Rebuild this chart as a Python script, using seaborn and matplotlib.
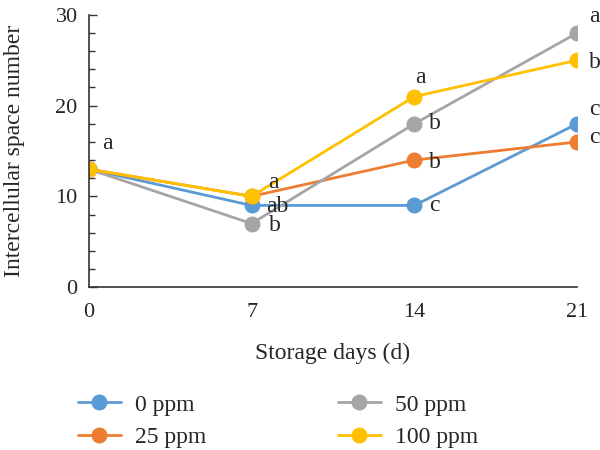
import pandas as pd
import matplotlib.pyplot as plt
import seaborn as sns

# data
days = [0, 7, 14, 21]
treatments = ["0 ppm", "25 ppm", "50 ppm", "100 ppm"]
ppm0 = [13, 9, 9, 18]
ppm25 = [13, 10, 14, 16]
ppm50 = [13, 7, 18, 28]
ppm100 = [13, 10, 21, 25]
colors = ["#5B9BD5", "#ED7D31", "#A5A5A5", "#FFC000"]

# significance letters (series, day index, letter)
letters = [
    ("100 ppm", 0, "a"),
    ("100 ppm", 1, "a"), ("0 ppm", 1, "ab"), ("50 ppm", 1, "b"),
    ("100 ppm", 2, "a"), ("50 ppm", 2, "b"), ("25 ppm", 2, "b"), ("0 ppm", 2, "c"),
    ("50 ppm", 3, "a"), ("100 ppm", 3, "b"), ("0 ppm", 3, "c"), ("25 ppm", 3, "c"),
]
# pixel offsets for each letter
offsets = [
    (13, 26),
    (17, 14), (15, -1), (17, -2),
    (1, 19), (15, 0), (15, -2), (15, 0),
    (12, 17), (12, -2), (12, 14), (12, 4),
]

values = {"0 ppm": ppm0, "25 ppm": ppm25, "50 ppm": ppm50, "100 ppm": ppm100}
rows = []
for t in treatments:
    for d, v in zip(days, values[t]):
        rows.append({"day": d, "value": v, "treatment": t})
df = pd.DataFrame(rows)

sns.set_style("white")
plt.rcParams["font.family"] = ["Liberation Serif", "DejaVu Serif"]

fig = plt.figure(figsize=(6, 4.5), dpi=100)
ax = fig.add_axes([0.148, 0.362, 0.814, 0.605])

sns.lineplot(data=df, x="day", y="value", hue="treatment", hue_order=treatments,
             palette=colors, marker="o", markersize=11.5, markeredgewidth=0,
             linewidth=2, ax=ax, legend=True)

for (t, i, txt), (dx, dy) in zip(letters, offsets):
    ax.annotate(txt, (days[i], values[t][i]), xytext=(dx, dy),
                textcoords="offset pixels", ha="left", va="center", fontsize=17)

ax.set_xlim(0, 21)
ax.set_ylim(0, 30)
ax.set_xticks(days)
ax.set_yticks([0, 10, 20, 30])
ax.set_yticks(range(0, 31, 2), minor=True)
ax.tick_params(axis="y", which="both", direction="in", left=True, length=6,
               width=1, color="#333333", labelsize=16, pad=8)
ax.tick_params(axis="y", which="minor", length=4)
ax.tick_params(axis="x", bottom=False, labelsize=16, pad=8)
for s in ["top", "right"]:
    ax.spines[s].set_visible(False)
for s in ["left", "bottom"]:
    ax.spines[s].set_color("#333333")
    ax.spines[s].set_linewidth(1.2)

ax.set_xlabel("Storage days (d)", fontsize=17)
ax.xaxis.set_label_coords(0.5, -0.205)
ax.set_ylabel("Intercellular space number", fontsize=17)
ax.yaxis.set_label_coords(-0.13, 0.5)

handles, labels = ax.get_legend_handles_labels()
ax.get_legend().remove()
fig.legend(handles, labels, loc="upper left", bbox_to_anchor=(0.13, 0.124),
           ncol=2, frameon=False, fontsize=17, columnspacing=5.6,
           handlelength=1.8, handletextpad=0.6, labelspacing=0.45,
           borderaxespad=0, borderpad=0)

fig.savefig("out.png", dpi=100)
